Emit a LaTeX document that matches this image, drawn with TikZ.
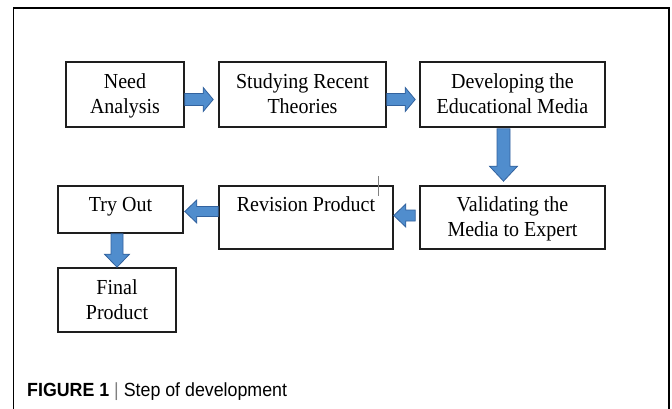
\documentclass[tikz,border=0pt]{standalone}
\usepackage{graphicx}
\usepackage{fontspec}
\setmainfont{Liberation Serif}
\newfontfamily\capfont{Liberation Sans}
\usetikzlibrary{calc}
\definecolor{arrfill}{RGB}{80,141,205}
\definecolor{arrline}{RGB}{50,98,158}
\definecolor{boxline}{RGB}{30,30,30}
\newcommand\vs[1]{\scalebox{1}[1.07]{#1}}
\tikzset{
  stepbox/.style={draw=boxline, line width=1.6pt, inner sep=0pt},
  blk/.style={fill=arrfill, draw=arrline, line width=0.8pt, line join=miter},
  lbl/.style={inner sep=0pt, anchor=base, align=center, font=\fontsize{20}{25}\selectfont}
}
% horizontal block arrow: #1 start, #2 tip, #3 y, #4 shaft half, #5 head half, #6 head length, #7 direction (+1 right, -1 left)
\newcommand\harr[7]{\draw[blk] let \p1=(#1), \p2=(#2) in
 (\x1,{#3+#4}) -- ({\x2-#7*#6},{#3+#4}) -- ({\x2-#7*#6},{#3+#5}) -- (\x2,#3)
 -- ({\x2-#7*#6},{#3-#5}) -- ({\x2-#7*#6},{#3-#4}) -- (\x1,{#3-#4}) -- cycle;}
% vertical block arrow (downwards): #1 start, #2 tip, #3 x, #4 shaft half, #5 head half, #6 head length
\newcommand\varr[6]{\draw[blk] let \p1=(#1), \p2=(#2) in
 ({#3+#4},\y1) -- ({#3+#4},{\y2+#6}) -- ({#3+#5},{\y2+#6}) -- (#3,\y2)
 -- ({#3-#5},{\y2+#6}) -- ({#3-#4},{\y2+#6}) -- ({#3-#4},\y1) -- cycle;}
\begin{document}
\begin{tikzpicture}[x=1pt,y=1pt]
\useasboundingbox (0,0) rectangle (672,-409);
\fill[white] (0,0) rectangle (672,-409);
% outer frame
\draw[black, line width=1.2pt] (13.3,-409) -- (13.3,-8) -- (669,-8) -- (669,-409);
% boxes
\node[stepbox, minimum width=118pt, minimum height=65pt] (need) at (125,-94.5) {};
\node[stepbox, minimum width=167pt, minimum height=65pt] (stud) at (302.5,-94.5) {};
\node[stepbox, minimum width=185pt, minimum height=65pt] (dev) at (512.5,-94.5) {};
\node[stepbox, minimum width=185pt, minimum height=63pt] (val) at (512.5,-217.5) {};
\node[stepbox, minimum width=174pt, minimum height=63pt] (rev) at (306,-217.5) {};
\node[stepbox, minimum width=125pt, minimum height=47pt] (try) at (120.5,-209.5) {};
\node[stepbox, minimum width=118pt, minimum height=64pt] (fin) at (117,-300) {};
% labels (base anchor = baseline of the last line)
\node[lbl] (needt) at ($(need.north)+(0,-52.5)$) {\vs{Need}\\\vs{Analysis}};
\node[lbl] (studt) at ($(stud.north)+(0,-52.5)$) {\vs{Studying Recent}\\\vs{Theories}};
\node[lbl] (devt) at ($(dev.north)+(0,-52.5)$) {\vs{Developing the}\\\vs{Educational Media}};
\node[lbl] (valt) at ($(val.north)+(0,-51)$) {\vs{Validating the}\\\vs{Media to Expert}};
\node[lbl] (revt) at ($(rev.north)+(0,-26)$) {\vs{Revision Product}};
\node[lbl] (tryt) at ($(try.north)+(0,-26)$) {\vs{Try Out}};
\node[lbl] (fint) at ($(fin.north)+(0,-52)$) {\vs{Final}\\\vs{Product}};
% arrows
\harr{need.east}{$(stud.west)+(-5,0)$}{-99.5pt}{6pt}{12pt}{10pt}{1}
\harr{stud.east}{$(dev.west)+(-4,0)$}{-99.5pt}{6pt}{12pt}{10pt}{1}
\varr{$(dev.south)+(0,-1)$}{$(val.north)+(0,4)$}{503.5pt}{6.5pt}{14pt}{15pt}
\harr{$(val.west)+(-4,0)$}{rev.east}{-215.5pt}{5.5pt}{11.5pt}{12pt}{-1}
\harr{rev.west}{$(try.east)+(1,0)$}{-211.5pt}{5pt}{11.5pt}{12pt}{-1}
\varr{try.south}{fin.north}{117pt}{6pt}{12.5pt}{13pt}
% text cursor mark
\draw[gray, line width=0.6pt] (378,-176) -- (378,-196);
% caption
\node[anchor=base west, inner sep=0pt, font=\capfont\fontsize{17.8}{20}\selectfont] (cap) at (27,-396.5)
  {\vs{\textbf{FIGURE 1} {\color{gray}|} Step of development}};
\end{tikzpicture}
\end{document}
